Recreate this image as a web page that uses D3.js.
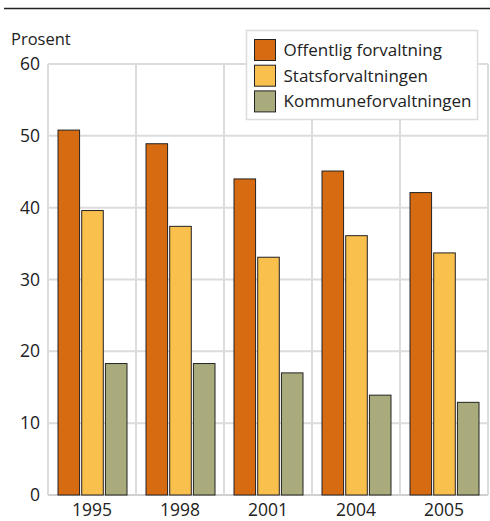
<!DOCTYPE html>
<html>
<head>
<meta charset="utf-8">
<script src="https://cdn.jsdelivr.net/npm/d3@7"></script>
<style>
  html, body { margin: 0; padding: 0; background: #fff; }
  svg { display: block; font-family: "Open Sans", sans-serif; }
</style>
</head>
<body>
<svg id="chart" width="490" height="521"></svg>
<script>
// Andel (prosent) per år og forvaltningsnivå
const years = ["1995", "1998", "2001", "2004", "2005"];
const seriesNames = ["Offentlig forvaltning", "Statsforvaltningen", "Kommuneforvaltningen"];
const offentlig = [50.8, 48.9, 44.0, 45.1, 42.1];
const stat = [39.6, 37.4, 33.1, 36.1, 33.7];
const kommune = [18.3, 18.3, 17.0, 13.9, 12.9];
const yTicks = [0, 10, 20, 30, 40, 50, 60];
const colors = ["#d66b12", "#fac04e", "#aaab7c"];

const seriesValues = [offentlig, stat, kommune];
const rows = years.map((y, i) => ({
  year: y,
  values: seriesNames.map((s, j) => ({ key: s, value: seriesValues[j][i] }))
}));

const svg = d3.select("#chart");
const margin = { left: 48, right: 2, top: 64, bottom: 26 };
const W = 490, H = 521;

const x = d3.scaleBand().domain(years).range([margin.left, W - margin.right]).padding(0);
const y = d3.scaleLinear().domain([0, 60]).range([H - margin.bottom, margin.top]);
const xInner = d3.scaleBand().domain(seriesNames)
  .range([0, 69]).paddingInner(0.09);
const innerOffset = (x.bandwidth() - 69) / 2;

// rule across the top
svg.append("line")
  .attr("x1", 4).attr("x2", W).attr("y1", 8.5).attr("y2", 8.5)
  .attr("stroke", "#222").attr("stroke-width", 1.3);

// horizontal grid
svg.append("g").selectAll("line").data(yTicks).join("line")
  .attr("x1", margin.left).attr("x2", W - margin.right)
  .attr("y1", d => y(d)).attr("y2", d => y(d))
  .attr("stroke", d => d === 0 ? "#cfcfcf" : "#dcdcdc")
  .attr("stroke-width", 2);

// vertical grid at band edges
const edges = years.map(d => x(d)).concat([x(years[years.length - 1]) + x.bandwidth()]);
svg.append("g").selectAll("line").data(edges).join("line")
  .attr("x1", d => d).attr("x2", d => d)
  .attr("y1", y(60)).attr("y2", y(0))
  .attr("stroke", "#dcdcdc").attr("stroke-width", 2);

// y axis labels
const yAxis = d3.axisLeft(y).tickValues(yTicks).tickSize(0).tickPadding(8);
const gy = svg.append("g").attr("transform", `translate(${margin.left},0)`).call(yAxis);
gy.select(".domain").remove();
gy.selectAll("text").attr("font-size", 17.5).attr("fill", "#222")
  .attr("font-family", "Open Sans, sans-serif");

// x axis labels
const xAxis = d3.axisBottom(x).tickSize(0).tickPadding(8.5);
const gx = svg.append("g").attr("transform", `translate(0,${y(0)})`).call(xAxis);
gx.select(".domain").remove();
gx.selectAll("text").attr("font-size", 17.5).attr("fill", "#222")
  .attr("font-family", "Open Sans, sans-serif");

svg.append("text").attr("x", 11).attr("y", 45)
  .attr("font-size", 16.5).attr("fill", "#222").text("Prosent");

// bars
const groups = svg.append("g").selectAll("g").data(rows).join("g")
  .attr("transform", d => `translate(${x(d.year) + innerOffset},0)`);
groups.selectAll("rect").data(d => d.values).join("rect")
  .attr("x", d => xInner(d.key) + 0.5)
  .attr("width", xInner.bandwidth())
  .attr("y", d => y(d.value))
  .attr("height", d => y(0) - y(d.value))
  .attr("fill", (d, i) => colors[i])
  .attr("stroke", "#222").attr("stroke-width", 1);

// legend
const lg = svg.append("g").attr("transform", "translate(246,30)");
lg.append("rect").attr("x", 0.5).attr("y", 0.5).attr("width", 231).attr("height", 89)
  .attr("fill", "#fff").attr("stroke", "#dcdcdc").attr("stroke-width", 1.5);
const items = lg.selectAll("g").data(seriesNames).join("g")
  .attr("transform", (d, i) => `translate(8.5,${9.5 + i * 25.7})`);
items.append("rect").attr("width", 21).attr("height", 21)
  .attr("fill", (d, i) => colors[i]).attr("stroke", "#222").attr("stroke-width", 1);
items.append("text").attr("x", 29).attr("y", 16.5)
  .attr("font-size", 17).attr("fill", "#222").text(d => d);
</script>
</body>
</html>
